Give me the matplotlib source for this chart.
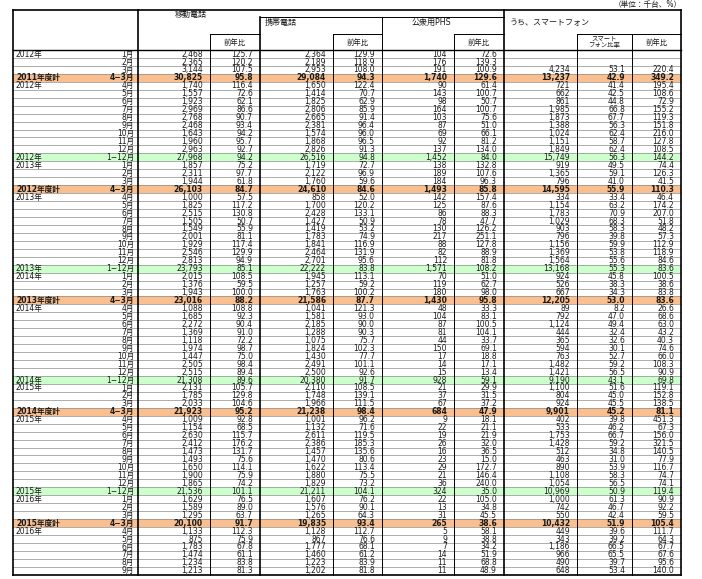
import matplotlib
matplotlib.use("Agg")
import matplotlib.pyplot as plt

plt.rcParams['font.family'] = ['DejaVu Sans', 'Noto Sans CJK JP']

# row labels
year_labels = ["2012年", "", "", "2011年度計", "2012年", "", "", "", "", "", "", "", "",
               "2012年", "2013年", "", "", "2012年度計", "2013年", "", "", "", "", "", "", "", "",
               "2013年", "2014年", "", "", "2013年度計", "2014年", "", "", "", "", "", "", "", "",
               "2014年", "2015年", "", "", "2014年度計", "2015年", "", "", "", "", "", "", "", "",
               "2015年", "2016年", "", "", "2015年度計", "2016年", "", "", "", "", ""]
month_labels = ["1月", "2月", "3月", "4−3月", "4月", "5月", "6月", "7月", "8月", "9月", "10月", "11月", "12月",
                "1−12月", "1月", "2月", "3月", "4−3月", "4月", "5月", "6月", "7月", "8月", "9月", "10月", "11月", "12月",
                "1−12月", "1月", "2月", "3月", "4−3月", "4月", "5月", "6月", "7月", "8月", "9月", "10月", "11月", "12月",
                "1−12月", "1月", "2月", "3月", "4−3月", "4月", "5月", "6月", "7月", "8月", "9月", "10月", "11月", "12月",
                "1−12月", "1月", "2月", "3月", "4−3月", "4月", "5月", "6月", "7月", "8月", "9月"]
# "fy" = fiscal year total (orange), "cy" = calendar year total (green)
row_kind = ["", "", "", "fy", "", "", "", "", "", "", "", "", "",
            "cy", "", "", "", "fy", "", "", "", "", "", "", "", "", "",
            "cy", "", "", "", "fy", "", "", "", "", "", "", "", "", "",
            "cy", "", "", "", "fy", "", "", "", "", "", "", "", "", "",
            "cy", "", "", "", "fy", "", "", "", "", "", ""]

mobile_units = [2468, 2365, 3144, 30825, 1740, 1557, 1923, 2969, 2768, 2468, 1643, 1960, 2963,
                27968, 1857, 2311, 1944, 26103, 1000, 1825, 2515, 1505, 1549, 2001, 1929, 2546, 2813,
                23793, 2015, 1376, 1943, 23016, 1088, 1685, 2272, 1369, 1118, 1974, 1447, 2505, 2515,
                21308, 2131, 1785, 2033, 21923, 1009, 1154, 2630, 2412, 1473, 1493, 1650, 1900, 1865,
                21536, 1629, 1589, 1295, 20100, 1133, 875, 1783, 1474, 1234, 1213]
mobile_yoy = [125.7, 120.2, 107.5, 95.8, 116.4, 72.6, 62.1, 86.6, 90.7, 93.4, 94.2, 95.7, 92.7,
              94.2, 75.2, 97.7, 61.8, 84.7, 57.5, 117.2, 130.8, 50.7, 55.9, 81.1, 117.4, 129.9, 94.9,
              85.1, 108.5, 59.5, 100.0, 88.2, 108.8, 92.3, 90.4, 91.0, 72.2, 98.7, 75.0, 98.4, 89.4,
              89.6, 105.7, 129.8, 104.6, 95.2, 92.8, 68.5, 115.7, 176.2, 131.7, 75.6, 114.1, 75.9, 74.2,
              101.1, 76.5, 89.0, 63.7, 91.7, 112.3, 75.9, 67.8, 61.1, 83.8, 81.3]
cell_units = [2364, 2189, 2953, 29084, 1650, 1414, 1825, 2806, 2665, 2381, 1574, 1868, 2826,
              26516, 1719, 2122, 1760, 24610, 858, 1700, 2428, 1427, 1419, 1783, 1841, 2464, 2701,
              22222, 1945, 1257, 1763, 21586, 1041, 1581, 2185, 1288, 1075, 1824, 1430, 2491, 2500,
              20380, 2110, 1748, 1966, 21238, 1001, 1132, 2611, 2386, 1457, 1470, 1622, 1880, 1829,
              21211, 1607, 1576, 1265, 19835, 1128, 867, 1777, 1460, 1223, 1202]
cell_yoy = [129.9, 118.9, 108.0, 94.3, 122.4, 70.7, 62.9, 85.9, 91.4, 96.4, 96.0, 96.5, 91.3,
            94.8, 72.7, 96.9, 59.6, 84.6, 52.0, 120.2, 133.1, 50.9, 53.2, 74.9, 116.9, 131.9, 95.6,
            83.8, 113.1, 59.2, 100.2, 87.7, 121.3, 93.0, 90.0, 90.3, 75.7, 102.3, 77.7, 101.1, 92.6,
            91.7, 108.5, 139.1, 111.5, 98.4, 96.2, 71.6, 119.5, 185.3, 135.6, 80.6, 113.4, 75.5, 73.2,
            104.1, 76.2, 90.1, 64.3, 93.4, 112.7, 76.6, 68.1, 61.2, 83.9, 81.8]
phs_units = [104, 176, 191, 1740, 90, 143, 98, 164, 103, 87, 69, 92, 137,
             1452, 138, 189, 184, 1493, 142, 125, 86, 78, 130, 217, 88, 82, 112,
             1571, 70, 119, 180, 1430, 48, 104, 87, 81, 44, 150, 17, 14, 15,
             928, 21, 37, 67, 684, 9, 22, 19, 26, 16, 23, 29, 21, 36,
             324, 22, 13, 31, 265, 5, 9, 7, 14, 11, 11]
phs_yoy = [72.6, 139.3, 100.9, 129.6, 61.4, 100.7, 50.7, 100.7, 75.6, 51.0, 66.1, 81.2, 134.0,
           84.0, 132.8, 107.6, 96.3, 85.8, 157.4, 87.6, 88.3, 47.7, 126.2, 251.1, 127.8, 88.9, 81.8,
           108.2, 51.0, 62.7, 98.0, 95.8, 33.3, 83.1, 100.5, 104.1, 33.7, 69.1, 18.8, 17.1, 13.4,
           59.1, 29.9, 31.5, 37.2, 47.9, 18.1, 21.1, 21.9, 32.0, 36.5, 15.0, 172.7, 146.4, 240.0,
           35.0, 105.0, 34.8, 45.5, 38.6, 58.1, 38.8, 34.2, 51.9, 68.8, 48.9]
smart_units = [None, None, 4234, 13237, 721, 662, 861, 1985, 1873, 1388, 1024, 1151, 1849,
               15749, 919, 1365, 796, 14595, 334, 1154, 1783, 1029, 903, 796, 1156, 1369, 1564,
               13168, 924, 526, 667, 12205, 89, 792, 1124, 444, 365, 594, 763, 1482, 1421,
               9190, 1100, 804, 924, 9901, 402, 533, 1753, 1428, 512, 463, 890, 1108, 1054,
               10969, 1000, 742, 550, 10432, 449, 343, 1186, 966, 490, 648]
smart_ratio = [None, None, 53.1, 42.9, 41.4, 42.5, 44.8, 66.8, 67.7, 56.3, 62.4, 58.7, 62.4,
               56.3, 49.5, 59.1, 41.0, 55.9, 33.4, 63.2, 70.9, 68.3, 58.3, 39.8, 59.9, 53.8, 55.6,
               55.3, 45.8, 38.3, 34.3, 53.0, 8.2, 47.0, 49.4, 32.4, 32.6, 30.1, 52.7, 59.2, 56.5,
               43.1, 51.6, 45.0, 45.5, 45.2, 39.8, 46.2, 66.7, 59.2, 34.8, 31.0, 53.9, 58.3, 56.5,
               50.9, 61.3, 46.7, 42.4, 51.9, 39.6, 39.2, 66.5, 65.5, 39.7, 53.4]
smart_yoy = [None, None, 220.4, 349.2, 195.4, 108.6, 72.9, 155.2, 119.3, 151.8, 216.0, 127.8, 108.5,
             144.2, 74.4, 126.3, 41.5, 110.3, 46.4, 174.2, 207.0, 51.8, 48.2, 57.3, 112.9, 118.9, 84.6,
             83.6, 100.5, 38.6, 83.8, 83.6, 26.6, 68.6, 63.0, 43.2, 40.3, 74.6, 66.0, 108.3, 90.9,
             69.8, 119.1, 152.8, 138.5, 81.1, 451.3, 67.3, 156.0, 321.5, 140.5, 77.9, 116.7, 74.7, 74.1,
             119.4, 90.9, 92.2, 59.5, 105.4, 111.7, 64.3, 67.7, 67.6, 95.6, 140.0]

W, H = 702, 579
fig = plt.figure(figsize=(W / 100, H / 100), dpi=100)
ax = fig.add_axes([0, 0, 1, 1])
ax.set_xlim(0, W)
ax.set_ylim(H, 0)
ax.axis('off')

# column edges in pixels
xs = [13, 138, 210, 260, 333, 382, 454, 504, 577, 632, 681]
top, head_bot = 10, 50
row_h = 7.95
n = len(month_labels)
bottom = head_bot + n * row_h
fs = 5.5
ink = "#1a1a1a"
half_cap = 0.73 * fs * 100 / 72 / 2  # half digit height in px

fills = {"fy": "#F9BF8F", "cy": "#CCFFCC"}

# row backgrounds and separators
for i in range(n):
    y0 = head_bot + i * row_h
    if row_kind[i] in fills:
        ax.fill_between([xs[0], xs[-1]], y0, y0 + row_h, color=fills[row_kind[i]], lw=0, zorder=0)
    if i > 0:
        ax.plot([xs[0], xs[-1]], [y0, y0], color="#8c8c8c", lw=0.5, zorder=1)

# vertical lines
thick = {0, 1, 3, 7, 10}
for k, x in enumerate(xs):
    if k in (0, 1, 7, 10):
        y_start = top
    elif k in (3, 5):
        y_start = 17
    else:
        y_start = 34
    ax.plot([x, x], [y_start, bottom], color="black", lw=1.2 if k in thick else 0.7, zorder=3)

# horizontal header lines
ax.plot([xs[0], xs[-1]], [top, top], color="black", lw=1.2, zorder=3)
ax.plot([xs[0], xs[-1]], [head_bot, head_bot], color="black", lw=1.0, zorder=3)
ax.plot([xs[0], xs[-1]], [bottom, bottom], color="black", lw=1.2, zorder=3)
ax.plot([xs[3], xs[7]], [17, 17], color="black", lw=0.7, zorder=3)
for a, b in [(2, 3), (4, 5), (6, 7), (8, 10)]:
    ax.plot([xs[a], xs[b]], [34, 34], color="black", lw=0.7, zorder=3)

# header text
ax.text(W - 20, 5, "（単位：千台、%）", fontsize=5.5, ha="right", va="center", color=ink)
ax.text(175, 14, "移動電話", fontsize=5.8, ha="left", va="center", color=ink)
ax.text(265, 22, "携帯電話", fontsize=5.8, ha="left", va="center", color=ink)
ax.text(412, 22, "公衆用PHS", fontsize=5.8, ha="left", va="center", color=ink)
ax.text(510, 22, "うち、スマートフォン", fontsize=5.8, ha="left", va="center", color=ink)
for a, b in [(2, 3), (4, 5), (6, 7), (9, 10)]:
    ax.text((xs[a] + xs[b]) / 2, 42, "前年比", fontsize=5.3, ha="center", va="center", color=ink)
ax.text((xs[8] + xs[9]) / 2, 42, "スマート\nフォン比率", fontsize=4.6, ha="center", va="center",
        linespacing=1.0, color=ink)

# body text
pad = 7
for i in range(n):
    yb = head_bot + (i + 0.5) * row_h + half_cap - 0.2
    wt = "bold" if row_kind[i] == "fy" else "normal"
    kw = dict(fontsize=fs, va="baseline", fontweight=wt, zorder=4, color=ink)
    if year_labels[i]:
        ax.text(xs[0] + 3, yb, year_labels[i], ha="left", **kw)
    ax.text(xs[1] - 4, yb, month_labels[i], ha="right", **kw)
    cols = [
        (mobile_units[i], "int"), (mobile_yoy[i], "pct"),
        (cell_units[i], "int"), (cell_yoy[i], "pct"),
        (phs_units[i], "int"), (phs_yoy[i], "pct"),
        (smart_units[i], "int"), (smart_ratio[i], "pct"), (smart_yoy[i], "pct"),
    ]
    for j, (v, kind) in enumerate(cols):
        if v is None:
            continue
        s = f"{v:,}" if kind == "int" else f"{v:.1f}"
        ax.text(xs[j + 2] - pad, yb, s, ha="right", **kw)

fig.savefig("out.png", dpi=100)
